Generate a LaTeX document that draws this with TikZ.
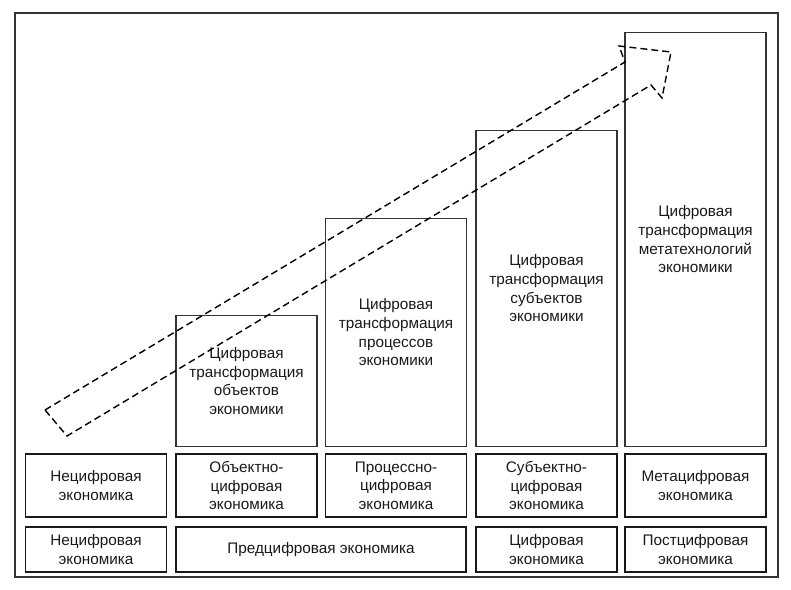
\documentclass[tikz,border=0pt]{standalone}
\usepackage{fontspec}
\setmainfont{Liberation Sans}

\begin{document}
\begin{tikzpicture}[x=1pt,y=-1pt,
  box/.style={draw=black!90,line width=1.6pt,align=center,inner sep=0pt,
    minimum width=141pt,text=black!90,font=\fontsize{15.3}{18.6}\selectfont},
  tall/.style={box,line width=1.2pt,draw=black!80,anchor=south,minimum height=#1},
  trail/.style={line width=1.4pt,dash pattern=on 7pt off 4pt,line join=miter}]
  \useasboundingbox (0,0) rectangle (791,589);
  \draw[line width=2pt,black!80] (15,13) rectangle (778,577);
  \node[tall=131pt] (t2) at (246.5,447) {Цифровая\\трансформация\\объектов\\экономики};
  \node[tall=228pt] (t3) at (396,447) {Цифровая\\трансформация\\процессов\\экономики};
  \node[tall=316pt] (t4) at (546.5,447) {Цифровая\\трансформация\\субъектов\\экономики};
  \node[tall=414pt] (t5) at (695.5,447) {Цифровая\\трансформация\\метатехнологий\\экономики};
  \node[box,minimum height=63pt] (e1) at (96,485.5) {Нецифровая\\экономика};
  \node[box,minimum height=63pt] (e2) at (246.5,485.5) {Объектно-\\цифровая\\экономика};
  \node[box,minimum height=63pt] (e3) at (396,485.5) {Процессно-\\цифровая\\экономика};
  \node[box,minimum height=63pt] (e4) at (546.5,485.5) {Субъектно-\\цифровая\\экономика};
  \node[box,minimum height=63pt] (e5) at (695.5,485.5) {Метацифровая\\экономика};
  \node[box,minimum height=45pt] (s1) at (96,549.5) {Нецифровая\\экономика};
  \node[box,minimum height=45pt,minimum width=290pt] (s2) at (321,549.5) {Предцифровая экономика};
  \node[box,minimum height=45pt] (s4) at (546.5,549.5) {Цифровая\\экономика};
  \node[box,minimum height=45pt] (s5) at (695.5,549.5) {Постцифровая\\экономика};
  \draw[trail] (45,410) -- (625,62) -- (619,46) -- (671,52) -- (662,98) -- (651,85) -- (67,436) -- cycle;
\end{tikzpicture}
\end{document}
